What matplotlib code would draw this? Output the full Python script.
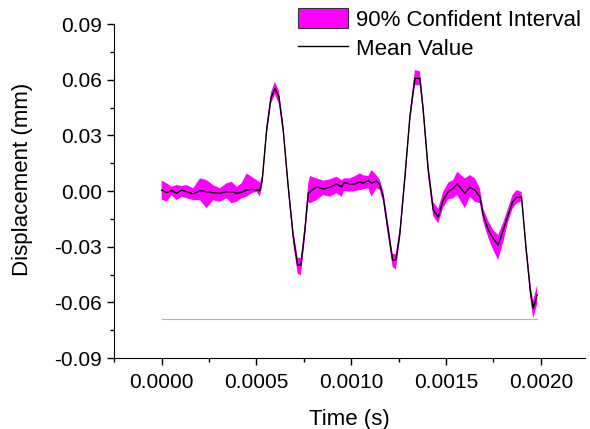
import numpy as np
import matplotlib.pyplot as plt
from matplotlib.ticker import MultipleLocator, AutoMinorLocator

plt.rcParams['font.family'] = ['Liberation Sans', 'DejaVu Sans']

# time in units of 1e-4 s
time_e4 = [0.000, 0.264, 0.527, 0.791, 1.055, 1.319, 1.667, 2.020, 2.373, 2.721,
           3.074, 3.428, 3.692, 3.956, 4.219, 4.483, 4.747, 5.010, 5.184, 5.306,
           5.538, 5.764, 5.975, 6.186, 6.413, 6.677, 6.941, 7.173, 7.347, 7.558,
           7.732, 7.821, 8.175, 8.523, 8.876, 9.230, 9.493, 9.630, 9.931, 10.195,
           10.458, 10.632, 10.896, 11.075, 11.339, 11.513, 11.687, 11.867, 12.183, 12.357,
           12.568, 12.832, 13.095, 13.359, 13.623, 13.797, 14.061, 14.324, 14.588, 14.852,
           15.115, 15.379, 15.590, 15.996, 16.260, 16.524, 16.787, 16.962, 17.225, 17.489,
           17.752, 18.016, 18.280, 18.512, 18.723, 18.986, 19.213, 19.461, 19.598, 19.809]

mean_mm = [0.0005, -0.0009, 0.0002, -0.0012, 0.0005, -0.0004, -0.0016, 0.0002, -0.0004, -0.0009,
           -0.0012, -0.0004, -0.0005, -0.0012, -0.0007, 0.0005, 0.0009, 0.0005, 0.0002, 0.0059,
           0.0329, 0.0500, 0.0553, 0.0508, 0.0329, 0.0023, -0.0246, -0.0399, -0.0399, -0.0210,
           -0.0012, -0.0005, 0.0023, 0.0011, 0.0020, 0.0038, 0.0023, 0.0045, 0.0038, 0.0038,
           0.0050, 0.0042, 0.0056, 0.0042, 0.0054, 0.0032, -0.0030, -0.0156, -0.0372, -0.0372,
           -0.0228, 0.0077, 0.0400, 0.0607, 0.0607, 0.0437, 0.0113, -0.0102, -0.0139, -0.0049,
           -0.0004, 0.0015, 0.0038, -0.0012, 0.0020, 0.0005, -0.0031, -0.0129, -0.0210, -0.0255,
           -0.0291, -0.0210, -0.0129, -0.0058, -0.0034, -0.0034, -0.0300, -0.0551, -0.0632, -0.0561]

upper_mm = [0.0056, 0.0042, 0.0023, 0.0032, 0.0027, 0.0032, 0.0015, 0.0068, 0.0059, 0.0032,
            0.0015, 0.0042, 0.0050, 0.0023, 0.0042, 0.0095, 0.0077, 0.0059, 0.0045, 0.0085,
            0.0360, 0.0530, 0.0589, 0.0540, 0.0360, 0.0050, -0.0210, -0.0360, -0.0360, -0.0170,
            0.0040, 0.0081, 0.0068, 0.0056, 0.0063, 0.0077, 0.0059, 0.0068, 0.0068, 0.0080,
            0.0095, 0.0085, 0.0081, 0.0113, 0.0085, 0.0059, 0.0000, -0.0120, -0.0340, -0.0340,
            -0.0190, 0.0110, 0.0430, 0.0652, 0.0645, 0.0470, 0.0145, -0.0060, -0.0095, -0.0005,
            0.0045, 0.0059, 0.0104, 0.0068, 0.0086, 0.0068, 0.0015, -0.0095, -0.0160, -0.0210,
            -0.0237, -0.0170, -0.0090, -0.0020, 0.0005, -0.0005, -0.0270, -0.0510, -0.0590, -0.0507]

lower_mm = [-0.0045, -0.0058, -0.0022, -0.0049, -0.0031, -0.0039, -0.0049, -0.0049, -0.0093, -0.0049,
            -0.0058, -0.0039, -0.0066, -0.0058, -0.0039, -0.0031, -0.0012, -0.0004, -0.0030, 0.0030,
            0.0300, 0.0470, 0.0520, 0.0470, 0.0300, -0.0010, -0.0280, -0.0445, -0.0453, -0.0250,
            -0.0060, -0.0066, -0.0049, -0.0022, -0.0031, -0.0012, -0.0031, 0.0000, -0.0004, 0.0000,
            0.0005, 0.0010, 0.0015, -0.0031, 0.0015, 0.0005, -0.0060, -0.0190, -0.0410, -0.0422,
            -0.0260, 0.0040, 0.0370, 0.0570, 0.0570, 0.0400, 0.0080, -0.0135, -0.0174, -0.0090,
            -0.0045, -0.0039, -0.0022, -0.0093, -0.0031, -0.0058, -0.0066, -0.0165, -0.0250, -0.0318,
            -0.0372, -0.0275, -0.0165, -0.0095, -0.0066, -0.0055, -0.0330, -0.0590, -0.0686, -0.0610]

baseline_mm = -0.0692

t = np.array(time_e4) * 1e-4

fig = plt.figure(figsize=(5.9, 4.29), dpi=100)
ax = fig.add_axes([0.193, 0.1655, 0.7985, 0.7785])

ax.fill_between(t, lower_mm, upper_mm, facecolor='#ff00ff', edgecolor='none',
                label='90% Confident Interval')
ax.plot(t, mean_mm, color='black', lw=1.0, label='Mean Value')
ax.plot([t[0], t[-1]], [baseline_mm, baseline_mm], color='#c8a8c8', lw=0.8)

ax.set_xlim(-0.000252, 0.002233)
ax.set_ylim(-0.09, 0.09)
ax.xaxis.set_major_locator(MultipleLocator(0.0005))
ax.yaxis.set_major_locator(MultipleLocator(0.03))
ax.xaxis.set_minor_locator(AutoMinorLocator(2))
ax.yaxis.set_minor_locator(AutoMinorLocator(2))
ax.xaxis.set_major_formatter(plt.FuncFormatter(lambda v, p: f'{v:.4f}'))
ax.yaxis.set_major_formatter(plt.FuncFormatter(lambda v, p: f'{v:.2f}'))
ax.tick_params(which='major', length=5, width=1, labelsize=15, direction='out')
ax.tick_params(which='minor', length=3, width=1, direction='out')
ax.tick_params(axis='x', pad=6)

ax.spines['top'].set_visible(False)
ax.spines['right'].set_visible(False)

ax.set_xlabel('Time (s)', fontsize=16, labelpad=12)
ax.set_ylabel('Displacement (mm)', fontsize=16)
ax.yaxis.set_label_coords(-0.172, 0.535)

leg = ax.legend(loc='upper left', bbox_to_anchor=(298 / 590, 1 - 8 / 429),
                bbox_transform=fig.transFigure, frameon=False, fontsize=16,
                handlelength=2.25, handleheight=1.04, handletextpad=0.36,
                labelspacing=0.3, borderpad=0, borderaxespad=0)
leg.legend_handles[0].set_edgecolor('#333333')
leg.legend_handles[0].set_linewidth(0.8)

plt.savefig('out.png', dpi=100)
plt.close()
